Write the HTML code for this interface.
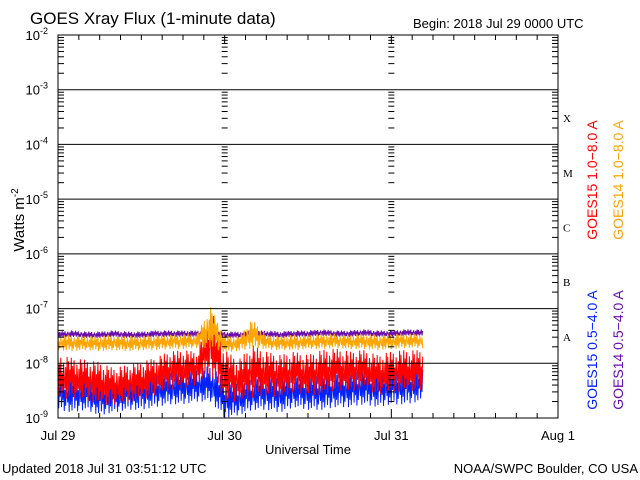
<!DOCTYPE html>
<html><head><meta charset="utf-8"><style>
body{margin:0;background:#fff}
svg{display:block;font-family:"Liberation Sans",sans-serif}
</style></head><body>
<svg id="c" width="640" height="480" viewBox="0 0 640 480">
<g id="marks"></g>
<g id="axes"></g>
<text x="30" y="24" font-size="17">GOES Xray Flux (1-minute data)</text>
<text x="413" y="28" font-size="13">Begin:  2018 Jul 29 0000 UTC</text>
<text transform="translate(24,220) rotate(-90)" text-anchor="middle" font-size="15">Watts m<tspan dy="-6" font-size="10">-2</tspan></text>
<text x="308" y="454" text-anchor="middle" font-size="13">Universal Time</text>
<text x="2" y="473" font-size="13">Updated 2018 Jul 31 03:51:12 UTC</text>
<text x="638" y="473" text-anchor="end" font-size="13">NOAA/SWPC Boulder, CO USA</text>
<text transform="translate(597,180) rotate(-90)" text-anchor="middle" font-size="14" fill="#ff0000">GOES15 1.0−8.0 A</text>
<text transform="translate(623,180) rotate(-90)" text-anchor="middle" font-size="14" fill="#ffa500">GOES14 1.0−8.0 A</text>
<text transform="translate(597,350) rotate(-90)" text-anchor="middle" font-size="14" fill="#0022ff">GOES15 0.5−4.0 A</text>
<text transform="translate(623,350) rotate(-90)" text-anchor="middle" font-size="14" fill="#6a0dad">GOES14 0.5−4.0 A</text>
</svg>
<script>
const hours=[0,2,4,6,8,10,12,14,16,18,20,22,24,26,28,30,32,34,36,38,40,42,44,46,48,50,52,54];
const redHi=[-7.85,-7.9,-7.94,-7.98,-8.09,-8.03,-7.98,-7.9,-7.79,-7.76,-7.79,-6.99,-7.76,-7.94,-7.67,-7.79,-7.85,-7.79,-7.85,-7.76,-7.73,-7.79,-7.76,-7.85,-7.79,-7.76,-7.76,-7.79];
const redLo=[-8.67,-8.63,-8.67,-8.76,-8.76,-8.71,-8.67,-8.58,-8.49,-8.45,-8.4,-8.21,-8.67,-8.71,-8.63,-8.58,-8.63,-8.52,-8.58,-8.58,-8.49,-8.52,-8.45,-8.58,-8.52,-8.52,-8.49,-8.52];
const blueHi=[-8.25,-8.2,-8.25,-8.3,-8.3,-8.25,-8.2,-8.15,-8.15,-8.1,-8.1,-8.05,-8.3,-8.35,-8.25,-8.2,-8.25,-8.2,-8.2,-8.2,-8.15,-8.15,-8.1,-8.1,-8.1,-8.05,-8.1,-8.05];
const blueLo=[-8.85,-8.9,-8.85,-8.95,-8.9,-8.85,-8.85,-8.8,-8.75,-8.75,-8.7,-8.7,-9,-8.95,-8.85,-8.85,-8.9,-8.8,-8.85,-8.85,-8.8,-8.8,-8.75,-8.8,-8.75,-8.75,-8.7,-8.75];
const orangeHi=[-7.5,-7.48,-7.5,-7.5,-7.48,-7.5,-7.5,-7.48,-7.48,-7.46,-7.46,-6.97,-7.5,-7.5,-7.2,-7.48,-7.5,-7.48,-7.48,-7.46,-7.46,-7.48,-7.46,-7.48,-7.46,-7.46,-7.46,-7.48];
const orangeLo=[-7.76,-7.78,-7.76,-7.78,-7.76,-7.78,-7.76,-7.76,-7.74,-7.74,-7.72,-7.72,-7.8,-7.78,-7.72,-7.74,-7.76,-7.76,-7.74,-7.74,-7.72,-7.74,-7.74,-7.76,-7.74,-7.72,-7.72,-7.74];
const purpleHi=[-7.42,-7.4,-7.42,-7.42,-7.4,-7.42,-7.42,-7.4,-7.4,-7.4,-7.4,-7.4,-7.42,-7.42,-7.4,-7.4,-7.42,-7.4,-7.4,-7.38,-7.4,-7.4,-7.38,-7.4,-7.4,-7.38,-7.38,-7.4];
const purpleLo=[-7.54,-7.52,-7.54,-7.54,-7.52,-7.54,-7.54,-7.52,-7.52,-7.52,-7.52,-7.52,-7.54,-7.54,-7.52,-7.52,-7.54,-7.52,-7.52,-7.5,-7.52,-7.52,-7.5,-7.52,-7.52,-7.5,-7.5,-7.52];
const dayLabels=["Jul 29","Jul 30","Jul 31","Aug 1"];
const decades=[-9,-8,-7,-6,-5,-4,-3,-2];
const classLabels=["A","B","C","M","X"];
const endHour=52.6;
const jitter=[0,1,0.2,0.9,0.05,0.7,0.4,1,0.1,0.8,0.3,0.95,0,0.6,0.15,0.85,0.5,0.25,0.75];

const NS="http://www.w3.org/2000/svg";
const X0=58,X1=558,Y0=418,Y1=35;
const xS=h=>X0+(X1-X0)*h/72;
const yS=l=>Y0-(Y0-Y1)*(l+9)/7;
function mk(t,a,p){const e=document.createElementNS(NS,t);for(const k in a)e.setAttribute(k,a[k]);p.appendChild(e);return e;}
function interp(arr,h){let i=Math.min(Math.floor(h/2),arr.length-2);const f=Math.max(0,Math.min(1,(h-hours[i])/(hours[i+1]-hours[i])));return arr[i]+(arr[i+1]-arr[i])*f;}
const marks=document.getElementById('marks'),axes=document.getElementById('axes');
function series(hi,lo,color,name,off){
  let pts=[];const xe=xS(endHour);let k=off;
  for(let x=X0;x<=xe;x+=0.7,k++){const h=(x-X0)*72/(X1-X0);
    const a=interp(lo,h),b=interp(hi,h);
    const v=a+(b-a)*jitter[k%jitter.length];pts.push(x.toFixed(1)+","+yS(v).toFixed(1));}
  const p=mk('polyline',{points:pts.join(" "),fill:"none",stroke:color,"stroke-width":1},marks);
  
  
}
series(blueHi,blueLo,"#0022ff","series-goes15-short",3);
series(redHi,redLo,"#ff0000","series-goes15-long",7);
series(purpleHi,purpleLo,"#6a0dad","series-goes14-short",1);
series(orangeHi,orangeLo,"#ffa500","series-goes14-long",11);

const fr=mk('rect',{x:X0,y:Y1,width:X1-X0,height:Y0-Y1,fill:"none",stroke:"#000","stroke-width":1},axes);


decades.forEach(d=>{
  const y=yS(d);
  if(d>-9&&d<-2){const l=mk('line',{x1:X0,x2:X1,y1:y,y2:y,stroke:"#000"},axes);
    
    }
  const t=mk('text',{x:48,y:y+5,"text-anchor":"end","font-size":13},axes);
  
  
  t.innerHTML='10<tspan dy="-6" font-size="9">'+d+'</tspan>';
  if(d<-2){for(let m=2;m<=9;m++){const ym=yS(d+Math.log10(m));
    mk('line',{x1:X0,x2:X0+6,y1:ym,y2:ym,stroke:"#000"},axes);
    mk('line',{x1:X1-6,x2:X1,y1:ym,y2:ym,stroke:"#000"},axes);
    [1,2].forEach(j=>{const xx=xS(24*j);mk('line',{x1:xx-3,x2:xx+3,y1:ym,y2:ym,stroke:"#000"},axes);});}}
});
for(let h=3;h<72;h+=3){const x=xS(h),L=h%24?5:9;
  mk('line',{x1:x,x2:x,y1:Y0,y2:Y0-L,stroke:"#000"},axes);
  mk('line',{x1:x,x2:x,y1:Y1,y2:Y1+L,stroke:"#000"},axes);}
dayLabels.forEach((s,i)=>{const t=mk('text',{x:xS(24*i),y:440,"text-anchor":"middle","font-size":13},axes);
  
  
  t.textContent=s;});
classLabels.forEach((s,i)=>{const t=mk('text',{x:563,y:yS(-7.5+i)+5,"font-size":11,"font-family":"Liberation Serif"},axes);
  
  
  t.textContent=s;});
</script>
</body></html>
